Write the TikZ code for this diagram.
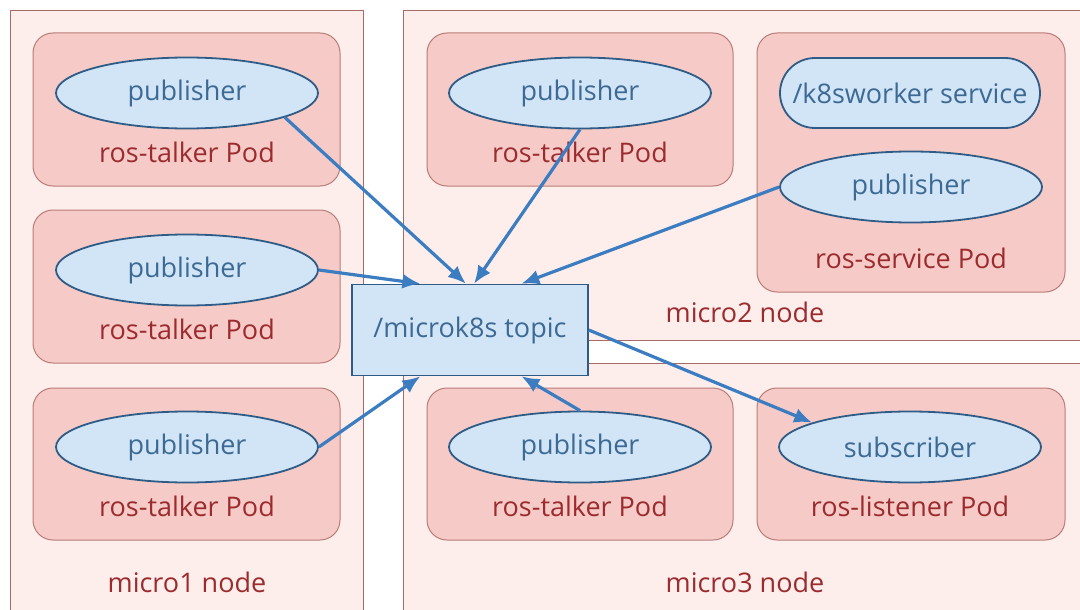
\documentclass[tikz,border=0pt]{standalone}
\usepackage{fontspec}
\setmainfont{Open Sans}
\usetikzlibrary{arrows.meta,shapes.geometric}

\definecolor{hostfill}{HTML}{FDEEEB}
\definecolor{hostline}{HTML}{A86A66}
\definecolor{podfill}{HTML}{F6CBC7}
\definecolor{podline}{HTML}{B97C78}
\definecolor{podtext}{HTML}{9B2B2E}
\definecolor{rosfill}{HTML}{D2E5F6}
\definecolor{rosline}{HTML}{2F5C86}
\definecolor{rostext}{HTML}{3C6A94}
\definecolor{msg}{HTML}{3C7DC2}

\newcommand\diafont{\fontsize{27}{31}\selectfont}

\tikzset{
  host/.style={draw=hostline, fill=hostfill, line width=1.2pt, anchor=north west, inner sep=0pt},
  pod/.style={draw=podline, fill=podfill, line width=1pt, rounded corners=20pt,
    minimum width=307pt, inner sep=0pt},
  podlabel/.style={text=podtext, font=\diafont, inner sep=0pt},
  rosnode/.style={ellipse, draw=rosline, fill=rosfill, line width=1.8pt, text=rostext,
    font=\diafont, minimum width=262pt, minimum height=71pt, inner sep=0pt},
  service/.style={rosnode, rectangle, rounded corners=35pt, minimum width=260pt, minimum height=70pt},
  topicbox/.style={draw=rosline, fill=rosfill, line width=1.5pt, text=rostext, font=\diafont,
    minimum width=236pt, minimum height=91pt, inner sep=0pt},
  flow/.style={draw=msg, line width=3.2pt, -{Latex[length=18pt,width=15pt]}}
}

\begin{document}
\begin{tikzpicture}[x=1pt, y=-1pt, node distance=59pt]
  \useasboundingbox (0,0) rectangle (1080,610);
  \fill[white] (0,0) rectangle (1080,610);

  % machines
  \node[host, minimum width=353pt, minimum height=610pt] (m1) at (10,10) {};
  \node[host, minimum width=690pt, minimum height=330pt] (m2) at (403,10) {};
  \node[host, minimum width=690pt, minimum height=610pt] (m3) at (403,363) {};
  \node[podlabel] (m1l) at (187,582) {micro1 node};
  \node[podlabel] (m2l) at (745,312) {micro2 node};
  \node[podlabel] (m3l) at (745,582) {micro3 node};

  % pods
  \node[pod, minimum height=153pt] (pod1) at (186.5,109.5) {};
  \node[pod, minimum height=153pt] (pod2) at (186.5,286.5) {};
  \node[pod, minimum height=152pt] (pod3) at (186.5,464) {};
  \node[pod, minimum width=306pt, minimum height=153pt] (pod4) at (580,109.5) {};
  \node[pod, minimum width=308pt, minimum height=259pt] (pod5) at (911,162.5) {};
  \node[pod, minimum width=306pt, minimum height=152pt] (pod6) at (580,464) {};
  \node[pod, minimum width=308pt, minimum height=152pt] (pod7) at (911,464) {};

  % ros nodes
  \node[rosnode] (p1) at (187,93) {publisher};
  \node[rosnode] (p2) at (187,270) {publisher};
  \node[rosnode] (p3) at (187,447) {publisher};
  \node[rosnode] (p4) at (580,93) {publisher};
  \node[service] (srv) at (910,93) {/k8sworker service};
  \node[rosnode] (p5) at (911,187) {publisher};
  \node[rosnode] (p6) at (580,447) {publisher};
  \node[rosnode] (sub) at (910,447) {subscriber};

  \node[podlabel, below of=p1] (t1) {ros-talker Pod};
  \node[podlabel, below of=p2] (t2) {ros-talker Pod};
  \node[podlabel, below of=p3] (t3) {ros-talker Pod};
  \node[podlabel, below of=p4] (t4) {ros-talker Pod};
  \node[podlabel, below of=p5, yshift=-12pt] (t5) {ros-service Pod};
  \node[podlabel, below of=p6] (t6) {ros-talker Pod};
  \node[podlabel, below of=sub] (t7) {ros-listener Pod};

  \node[topicbox] (topic) at (470,330) {/microk8s topic};

  \draw[flow] (p1.346) -- (topic.95);
  \draw[flow] (p2.east) -- (topic.137);
  \draw[flow] (p3.east) -- (topic.223);
  \draw[flow] (p4.south) -- (topic.85);
  \draw[flow] (p5.west) -- (topic.42);
  \draw[flow] (p6.north) -- (topic.318);
  \draw[flow] (topic.east) -- (sub.166);
\end{tikzpicture}
\end{document}
